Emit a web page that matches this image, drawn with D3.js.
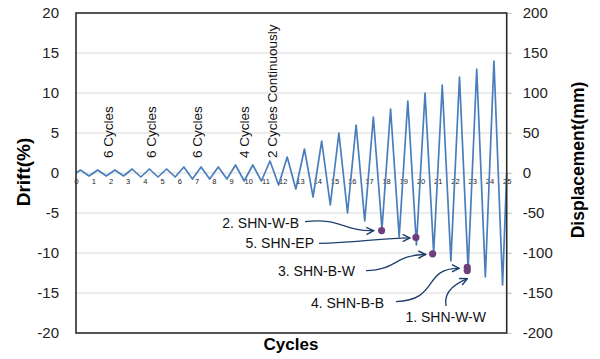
<!DOCTYPE html>
<html>
<head>
<meta charset="utf-8">
<script src="https://cdn.jsdelivr.net/npm/d3@7"></script>
<style>
  html, body { margin: 0; padding: 0; background: #fff; }
  svg { display: block; font-family: "Liberation Sans", Arial, sans-serif; }
</style>
</head>
<body>
<svg id="chart" width="600" height="359"></svg>
<script>
// ---------- data ----------
const cycleIndex   = [0,1,2,3,4,5,6,7,8,9,10,11,12,13,14,15,16,17,18,19,20,21,22,23,24];
const peakDrift    = [0.375,0.375,0.375,0.5,0.5,0.5,0.75,0.75,0.75,1,1,1.5,2,3,4,5,6,7,8,9,10,11,12,13,14];
const troughDrift  = [-0.375,-0.375,-0.375,-0.5,-0.5,-0.5,-0.75,-0.75,-0.75,-1,-1,-1.5,-2,-3,-4,-5,-6,-7,-8,-9,-10,-11,-12,-13,-14];
const xTicks       = [0,1,2,3,4,5,6,7,8,9,10,11,12,13,14,15,16,17,18,19,20,21,22,23,24,25];
const driftTicks   = [-20,-15,-10,-5,0,5,10,15,20];
const dispTicks    = [-200,-150,-100,-50,0,50,100,150,200];
const groupLabels  = ["6 Cycles","6 Cycles","6 Cycles","4 Cycles","2 Cycles Continuously"];
const groupCycle   = [1.87,4.39,7.04,9.75,11.42];
const specimens    = ["2. SHN-W-B","5. SHN-EP","3. SHN-B-W","4. SHN-B-B","1. SHN-W-W"];
const failCycle    = [17.74,19.73,20.70,22.71,22.71];
const failDrift    = [-7.2,-8.05,-10.1,-11.8,-12.2];

// ---------- layout ----------
const L = 76, R = 506.7, T = 13, B = 333;
const svg = d3.select("#chart");
const x  = d3.scaleLinear().domain([0,25]).range([L,R]);
const y  = d3.scaleLinear().domain([-20,20]).range([B,T]);
const y2 = d3.scaleLinear().domain([-200,200]).range([B,T]);
const plain = d => String(d);

// gridlines
svg.append("g").selectAll("line")
  .data(driftTicks.filter(d => Math.abs(d) < 20))
  .join("line")
  .attr("x1", L).attr("x2", R + 5)
  .attr("y1", d => y(d)).attr("y2", d => y(d))
  .attr("stroke", "#d9d9d9").attr("stroke-width", 1.2);

// left axis labels
const yAxis = d3.axisLeft(y).tickValues(driftTicks).tickSize(0).tickPadding(17).tickFormat(plain);
const gl = svg.append("g").attr("transform", `translate(${L},0)`).call(yAxis);
gl.select(".domain").remove();
gl.selectAll("text").attr("font-size", 15).attr("fill", "#222")
  .attr("font-family", "Liberation Sans, Arial, sans-serif");

// right axis labels
const y2Axis = d3.axisRight(y2).tickValues(dispTicks).tickSize(5).tickPadding(11).tickFormat(plain);
const gr = svg.append("g").attr("transform", `translate(${R},0)`).call(y2Axis);
gr.select(".domain").remove();
gr.selectAll("line").attr("stroke", "#c8c8c8");
gr.selectAll("text").attr("font-size", 15).attr("fill", "#222")
  .attr("font-family", "Liberation Sans, Arial, sans-serif");

// x tick labels along zero line
const xAxis = d3.axisBottom(x).tickValues(xTicks).tickSize(0).tickPadding(6).tickFormat(plain);
const gx = svg.append("g").attr("transform", `translate(0,${y(0)})`).call(xAxis);
gx.select(".domain").remove();
gx.selectAll("text").attr("font-size", 7.5).attr("fill", "#222")
  .attr("font-family", "Liberation Sans, Arial, sans-serif");

// waveform
const pts = [[0,0]];
cycleIndex.forEach((c,i) => {
  pts.push([c + 0.26, peakDrift[i]]);
  pts.push([c + 0.76, troughDrift[i]]);
});
pts.push([25,0]);
const line = d3.line().x(d => x(d[0])).y(d => y(d[1]));
svg.append("path").datum(pts)
  .attr("d", line).attr("fill", "none")
  .attr("stroke", "#4a7ebb").attr("stroke-width", 1.7).attr("stroke-linejoin", "round");

// plot border
svg.append("rect").attr("x", L).attr("y", T).attr("width", R - L).attr("height", B - T)
  .attr("fill", "none").attr("stroke", "#2b2b2b").attr("stroke-width", 1.6);

// group labels (rotated)
svg.append("g").selectAll("text").data(groupLabels).join("text")
  .attr("transform", (d,i) => `translate(${x(groupCycle[i])},158) rotate(-90)`)
  .attr("dy", "0.35em")
  .attr("font-size", 13.5).attr("fill", "#111")
  .text(d => d);

// arrow marker
const defs = svg.append("defs");
defs.append("marker").attr("id", "arr").attr("viewBox", "0 0 10 10")
  .attr("refX", 9).attr("refY", 5).attr("markerWidth", 7).attr("markerHeight", 7)
  .attr("orient", "auto")
  .append("path").attr("d", "M1,1 L9,5 L1,9").attr("fill", "none")
  .attr("stroke", "#1f3f6e").attr("stroke-width", 1.6);

// annotation layout (pixel): label end, label y, arrow start & control pts, tip offset from marker
const annLayout = [
  {tx: 299, ty: 222.7, sx: 305, sy: 221.7, c1: [340,217], c2: [345,232], dx: -8, dy: 0},
  {tx: 314, ty: 243.3, sx: 319, sy: 243.3, c1: [355,243], c2: [380,238], dx: -6, dy: 0.5},
  {tx: 355, ty: 270.7, sx: 366, sy: 270.7, c1: [398,270], c2: [393,255], dx: -7, dy: 0.7},
  {tx: 384, ty: 303.3, sx: 396, sy: 301.7, c1: [440,300], c2: [422,268], dx: -8, dy: 1},
  {tx: 486, ty: 317.3, sx: 446, sy: 306, c1: [443,290], c2: [458,283], dx: 0, dy: 8}
];

specimens.forEach((s,i) => {
  const a = annLayout[i];
  const mx = x(failCycle[i]), my = y(failDrift[i]);
  const ex = mx + a.dx, ey = my + a.dy;
  const p = d3.path();
  p.moveTo(a.sx, a.sy);
  p.bezierCurveTo(a.c1[0], a.c1[1], a.c2[0], a.c2[1], ex, ey);
  svg.append("path").attr("d", p.toString()).attr("fill", "none")
    .attr("stroke", "#1f3f6e").attr("stroke-width", 1.3).attr("marker-end", "url(#arr)");
  svg.append("text").attr("x", a.tx).attr("y", a.ty).attr("dy", "0.35em")
    .attr("text-anchor", "end").attr("font-size", 14).attr("fill", "#111").text(s);
});

// failure markers
svg.append("g").selectAll("circle").data(specimens).join("circle")
  .attr("cx", (d,i) => x(failCycle[i])).attr("cy", (d,i) => y(failDrift[i]))
  .attr("r", 3.6).attr("fill", "#6e3f7e");

// axis titles
svg.append("text").attr("transform", `translate(23,172) rotate(-90)`)
  .attr("text-anchor", "middle").attr("dy", "0.35em")
  .attr("font-size", 19).attr("font-weight", "bold").attr("fill", "#000").text("Drift(%)");
svg.append("text").attr("transform", `translate(578,160) rotate(-90)`)
  .attr("text-anchor", "middle").attr("dy", "0.35em")
  .attr("font-size", 17.5).attr("font-weight", "bold").attr("fill", "#000").text("Displacement(mm)");
svg.append("text").attr("x", 291).attr("y", 344).attr("dy", "0.35em")
  .attr("text-anchor", "middle")
  .attr("font-size", 17).attr("font-weight", "bold").attr("fill", "#000").text("Cycles");
</script>
</body>
</html>
